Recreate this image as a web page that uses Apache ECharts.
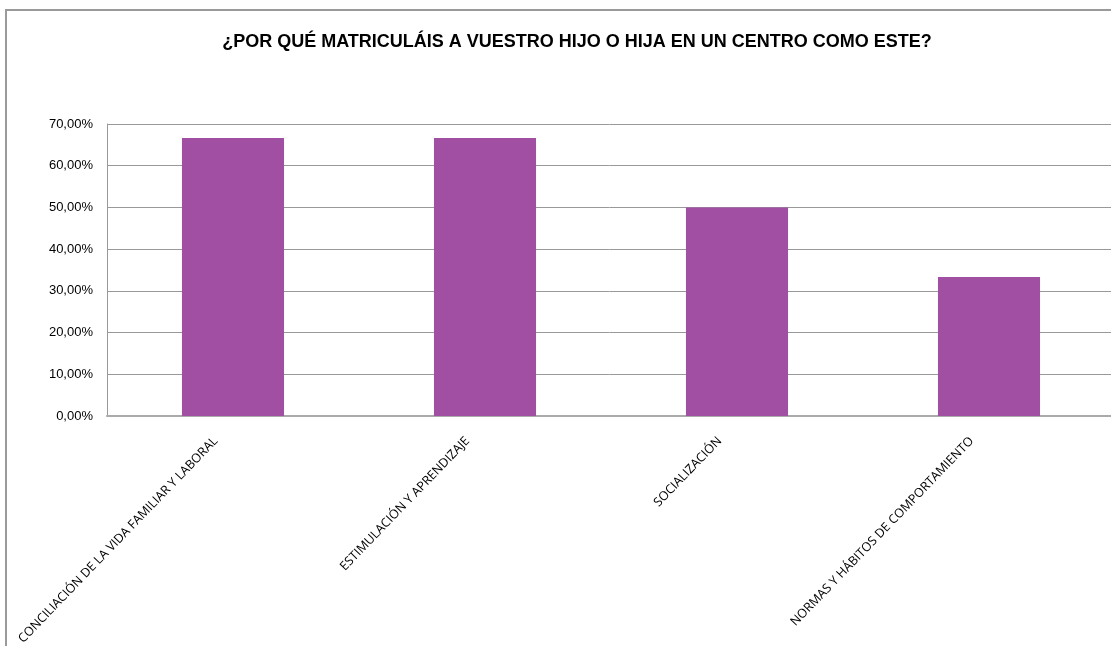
<!DOCTYPE html>
<html>
<head>
    <meta charset="utf-8">
    <title>Matriculación</title>
    <script src="https://cdn.jsdelivr.net/npm/echarts@6/dist/echarts.min.js"></script>
    <style>
        html, body { margin: 0; padding: 0; background: #fff; }
        #main { width: 1111px; height: 646px; }
    </style>
</head>
<body>
<div id="main"></div>
<script>
    var titulo = '¿POR QUÉ MATRICULÁIS A VUESTRO HIJO O HIJA EN UN CENTRO COMO ESTE?';
    var categorias = [
        'CONCILIACIÓN DE LA VIDA FAMILIAR Y LABORAL',
        'ESTIMULACIÓN Y APRENDIZAJE',
        'SOCIALIZACIÓN',
        'NORMAS Y HÁBITOS DE COMPORTAMIENTO'
    ];
    var porcentajes = [66.67, 66.67, 50, 33.33];

    var myChart = echarts.init(document.getElementById('main'));

    var option = {
        animation: false,
        backgroundColor: '#fff',
        title: {
            text: titulo,
            left: 572,
            textAlign: 'center',
            top: 28,
            textStyle: {
                fontFamily: 'Liberation Sans, Arial',
                fontSize: 18,
                fontWeight: 'bold',
                color: '#000'
            }
        },
        graphic: [{
            type: 'rect',
            shape: {x: 6, y: 10, width: 1200, height: 700},
            style: {fill: 'none', stroke: '#9a9a9a', lineWidth: 2},
            silent: true
        }],
        grid: {
            left: 107,
            top: 124,
            width: 1008,
            height: 292,
            outerBoundsMode: 'none'
        },
        xAxis: {
            type: 'category',
            data: categorias,
            axisLine: {show: true, lineStyle: {color: '#aaaaaa', width: 2}},
            axisTick: {show: false},
            axisLabel: {
                rotate: 46,
                interval: 0,
                margin: 5,
                padding: [0, 25, 0, 0],
                color: '#000',
                fontFamily: 'Open Sans',
                fontSize: 12.5
            }
        },
        yAxis: {
            type: 'value',
            min: 0,
            max: 70,
            interval: 10,
            axisLine: {show: true, lineStyle: {color: '#999999', width: 1}},
            axisTick: {show: false},
            splitLine: {lineStyle: {color: '#999999', width: 1}},
            axisLabel: {
                margin: 14,
                color: '#000',
                fontFamily: 'Liberation Sans, Arial',
                fontSize: 13,
                formatter: function (v) {
                    return v.toFixed(2).replace('.', ',') + '%';
                }
            }
        },
        series: [{
            type: 'bar',
            data: porcentajes,
            barWidth: '40.5%',
            itemStyle: {color: '#a04fa3'}
        }]
    };

    myChart.setOption(option);
</script>
</body>
</html>
